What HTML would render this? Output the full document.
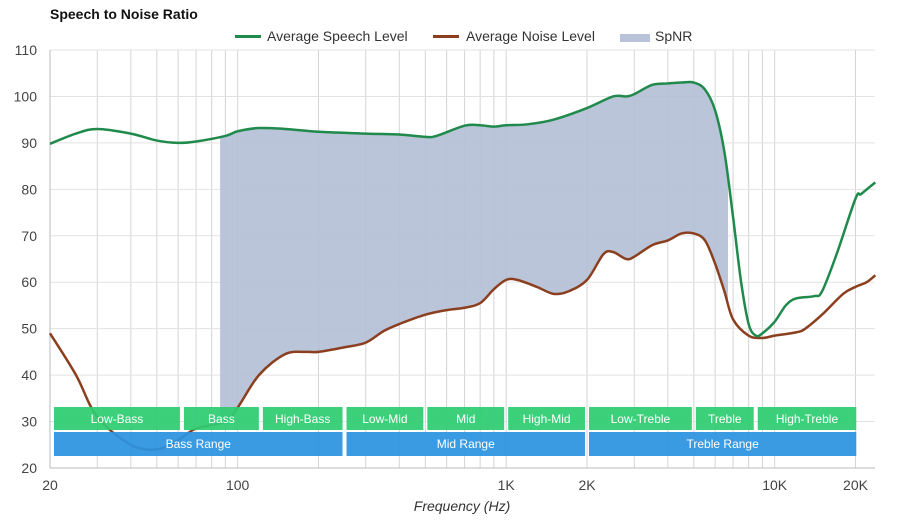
<!DOCTYPE html>
<html><head><meta charset="utf-8"><style>
body{margin:0;background:#fff;font-family:"Liberation Sans",Arial,sans-serif}
svg text{font-family:"Liberation Sans",Arial,sans-serif}
</style></head><body>
<svg id="c" width="900" height="520" xmlns="http://www.w3.org/2000/svg">
<text x="50" y="19" font-size="14" font-weight="bold" fill="#111">Speech to Noise Ratio</text>
<g>
<g><rect x="235" y="35" width="26" height="3" fill="#1f8a4c"/><text x="267" y="41" font-size="14" fill="#333">Average Speech Level</text></g>
<g><rect x="433" y="35" width="26" height="3" fill="#8b3f1f"/><text x="466" y="41" font-size="14" fill="#333">Average Noise Level</text></g>
<g><rect x="620" y="34" width="30" height="8" fill="#b8c3d9"/><text x="655" y="41" font-size="14" fill="#333">SpNR</text></g>
</g>
<g id="grid"></g>
<g id="yt"></g>
<g id="xt"></g>
<g id="series"></g>
<g id="bands"></g>
<text x="462" y="511" font-size="14" font-style="italic" text-anchor="middle" fill="#333">Frequency (Hz)</text>
</svg>
<script>
const speechFreq=[20,25,30,40,50,60,70,90,100,120,150,200,300,400,500,550,700,800,900,1000,1200,1500,2000,2500,2800,3000,3500,4000,4500,5000,5500,6000,6500,7000,7500,8000,8500,9000,10000,11000,12000,14000,15000,17000,20000,21000,23700];
const speechDb=[89.8,92,93,92,90.5,90,90.3,91.5,92.5,93.2,93,92.4,92,91.8,91.3,91.5,93.7,93.8,93.5,93.8,94,95,97.5,100,100,100.5,102.5,102.8,103,103,101.5,97,88,74,60,51,48.5,49,51.5,55,56.5,57,58,66,78,79,81.5];
const noiseFreq=[20,25,30,40,50,60,70,90,100,120,150,180,200,250,300,350,400,500,600,700,800,900,1000,1100,1300,1500,1700,2000,2300,2500,2800,3000,3500,4000,4500,5000,5500,6000,6500,7000,8000,9000,10000,12000,13000,15000,18000,20000,22000,23700];
const noiseDb=[49,40,31,25,24,26,28.5,30,33,40,44.5,45,45,46,47,49.5,51,53,54,54.5,55.5,58.5,60.5,60.5,59,57.5,58,60.5,66,66.5,65,65.5,68,69,70.5,70.5,69,64,58,52,48.5,48,48.5,49.2,50,53,57.5,59,60,61.5];
const spnrRange=[86,6700];
const yTicks=[20,30,40,50,60,70,80,90,100,110];
const xLabels=[[20,"20"],[100,"100"],[1000,"1K"],[2000,"2K"],[10000,"10K"],[20000,"20K"]];
const bandNames=["Low-Bass","Bass","High-Bass","Low-Mid","Mid","High-Mid","Low-Treble","Treble","High-Treble"];
const bandEdges=[20,62,122,250,500,1000,2000,5000,8500,23700];
const rangeNames=["Bass Range","Mid Range","Treble Range"];
const rangeEdges=[20,250,2000,23700];
const NS="http://www.w3.org/2000/svg";
const X0=50,X1=875,DEC=268.5;
const x=f=>X0+Math.log10(f/20)*DEC;
const y=v=>468-(v-20)*(418/90);
function el(t,a,p){const e=document.createElementNS(NS,t);for(const k in a)e.setAttribute(k,a[k]);document.getElementById(p).appendChild(e);return e;}
for(let d=10;d<=10000;d*=10)for(let m=1;m<10;m++){const f=d*m;if(f<20||f>23700)continue;
const l=el('line',{x1:x(f),x2:x(f),y1:50,y2:468,stroke:'#d4d4d4','stroke-width':1},'grid');

}
yTicks.forEach(v=>{const l=el('line',{x1:X0,x2:X1,y1:y(v),y2:y(v),stroke:v==20?'#bbb':'#e2e2e2'},'grid');


const t=el('text',{x:37,y:y(v)+5,'font-size':14,'text-anchor':'end',fill:'#444'},'yt');t.textContent=v;

});
el('line',{x1:X0,x2:X0,y1:50,y2:468,stroke:'#bbb'},'grid');
xLabels.forEach(([f,s])=>{const t=el('text',{x:x(f),y:490,'font-size':14,'text-anchor':'middle',fill:'#444'},'xt');t.textContent=s;

});
function pts(F,D){return F.map((f,i)=>[x(f),y(D[i])]);}
function smooth(p,move){let s=(move?'M':'L')+p[0][0]+','+p[0][1];for(let i=0;i<p.length-1;i++){const a=p[i-1]||p[i],b=p[i],c=p[i+1],d=p[i+2]||c;
s+=`C${b[0]+(c[0]-a[0])/6},${b[1]+(c[1]-a[1])/6} ${c[0]-(d[0]-b[0])/6},${c[1]-(d[1]-b[1])/6} ${c[0]},${c[1]}`;}return s;}
const sp=pts(speechFreq,speechDb),np=pts(noiseFreq,noiseDb);
const defs=el('defs',{},'series');const cp=document.createElementNS(NS,'clipPath');cp.setAttribute('id','cl');defs.appendChild(cp);
const r=document.createElementNS(NS,'rect');r.setAttribute('x',x(spnrRange[0]));r.setAttribute('width',x(spnrRange[1])-x(spnrRange[0]));r.setAttribute('y',0);r.setAttribute('height',520);cp.appendChild(r);
const fill=el('path',{d:smooth(sp,true)+smooth(np.slice().reverse(),false)+'Z',fill:'#b3bfd6','fill-opacity':0.9,'clip-path':'url(#cl)'},'series');


const ln=el('path',{d:smooth(np,true),fill:'none',stroke:'#8b3f1f','stroke-width':2.5},'series');


const ls=el('path',{d:smooth(sp,true),fill:'none',stroke:'#1f8a4c','stroke-width':2.5},'series');


bandNames.forEach((n,i)=>{const a=x(bandEdges[i])+(i?2:4),b=x(bandEdges[i+1])-(i==8?19:2);
const g=el('g',{},'bands');
const rr=document.createElementNS(NS,'rect');rr.setAttribute('x',a);rr.setAttribute('y',407);rr.setAttribute('width',b-a);rr.setAttribute('height',23);rr.setAttribute('fill','#2ecc71');rr.setAttribute('fill-opacity',0.93);g.appendChild(rr);
const t=document.createElementNS(NS,'text');t.setAttribute('x',(a+b)/2);t.setAttribute('y',423);t.setAttribute('font-size',12);t.setAttribute('fill','#fff');t.setAttribute('text-anchor','middle');t.textContent=n;g.appendChild(t);});
rangeNames.forEach((n,i)=>{const a=x(rangeEdges[i])+(i?2:4),b=x(rangeEdges[i+1])-(i==2?19:2);
const g=el('g',{},'bands');
const rr=document.createElementNS(NS,'rect');rr.setAttribute('x',a);rr.setAttribute('y',432);rr.setAttribute('width',b-a);rr.setAttribute('height',24);rr.setAttribute('fill','#2b93e0');rr.setAttribute('fill-opacity',0.93);g.appendChild(rr);
const t=document.createElementNS(NS,'text');t.setAttribute('x',(a+b)/2);t.setAttribute('y',448);t.setAttribute('font-size',12);t.setAttribute('fill','#fff');t.setAttribute('text-anchor','middle');t.textContent=n;g.appendChild(t);});
</script>
</body></html>
